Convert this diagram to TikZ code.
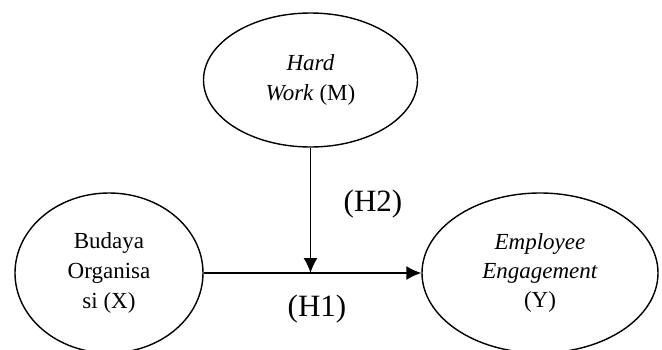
\documentclass[tikz,border=0pt]{standalone}
\usepackage{fontspec}
\setmainfont{Liberation Serif}
\usetikzlibrary{shapes.geometric,arrows.meta}
\tikzset{
  var/.style={draw, ellipse, line width=1.4pt, inner sep=0pt, align=center,
    font=\fontsize{23}{30}\selectfont},
  hyp/.style={font=\fontsize{31}{36}\selectfont, inner sep=0pt},
  conn/.style={line width=1.4pt, -{Latex[length=15pt,width=14pt]}}
}
\begin{document}
\begin{tikzpicture}[x=1pt,y=1pt]
\useasboundingbox (0,0) rectangle (662,-349);
\clip (0,0) rectangle (662,-349);
\node[var, minimum width=214pt, minimum height=134pt] (M) at (310.5,-80) {\textit{Hard}\\\textit{Work} (M)};
\node[var, minimum width=188pt, minimum height=160pt] (X) at (109,-273) {Budaya\\Organisa\\si (X)};
\node[var, minimum width=236pt, minimum height=160pt, font=\fontsize{23}{29}\selectfont] (Y) at (540,-273) {\textit{Employee}\\\textit{Engagement}\\(Y)};
\coordinate (J) at (M.south |- X.east);
\draw[conn] (X.east) -- (Y.west);
\draw[conn] (M.south) -- (J);
\node[hyp] (H2) at (373,-204) {(H2)};
\node[hyp] (H1) at (317,-309) {(H1)};
\end{tikzpicture}
\end{document}
